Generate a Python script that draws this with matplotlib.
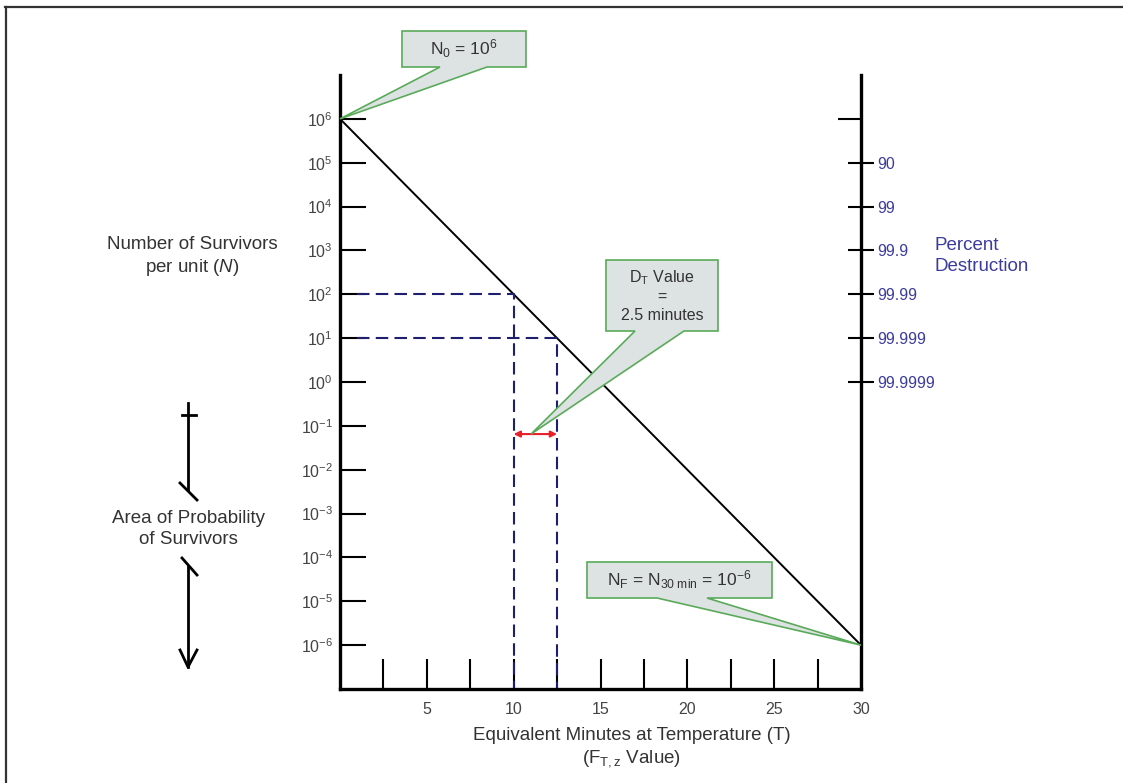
import matplotlib
matplotlib.use('Agg')
import matplotlib.pyplot as plt
from matplotlib.patches import Polygon
from matplotlib.ticker import FixedLocator, NullLocator, NullFormatter

plt.rcParams['font.family'] = ['Liberation Sans', 'DejaVu Sans']
plt.rcParams['mathtext.fontset'] = 'custom'
plt.rcParams['mathtext.rm'] = 'Liberation Sans'
plt.rcParams['mathtext.it'] = 'Liberation Sans:italic'
plt.rcParams['mathtext.bf'] = 'Liberation Sans:bold'

# survivor curve (minutes -> survivors per unit)
line_minutes = [0, 30]
line_survivors = [1e6, 1e-6]

# D value construction
dt_minutes = [10, 12.5]
dt_survivors = [1e2, 1e1]
dash_start = 1.0
arrow_level = 0.065
dt_tip_minute = 11.0

survivor_ticks = [1e-6, 1e-5, 1e-4, 1e-3, 1e-2, 1e-1, 1e0, 1e1, 1e2, 1e3, 1e4, 1e5, 1e6]
survivor_labels = ['$10^{-6}$', '$10^{-5}$', '$10^{-4}$', '$10^{-3}$', '$10^{-2}$', '$10^{-1}$',
                   '$10^{0}$', '$10^{1}$', '$10^{2}$', '$10^{3}$', '$10^{4}$', '$10^{5}$', '$10^{6}$']
pct_ticks = [1e5, 1e4, 1e3, 1e2, 1e1, 1e0]
pct_labels = ['90', '99', '99.9', '99.99', '99.999', '99.9999']
minute_ticks = [5, 10, 15, 20, 25, 30]
minute_minor = [2.5, 7.5, 12.5, 17.5, 22.5, 27.5]

W, H = 1123, 783
fig = plt.figure(figsize=(W / 100, H / 100), dpi=100)
ax = fig.add_axes([340 / W, 1 - 689 / H, 521 / W, 614 / H])

ax.set_yscale('log')
ax.set_xlim(0, 30)
ax.set_ylim(1e-7, 1e7)

ax.plot(line_minutes, line_survivors, color='black', lw=1.4)
for t, n in zip(dt_minutes, dt_survivors):
    ax.plot([dash_start, t, t], [n, n, 1e-7], color='#1f1f70', lw=1.5, dashes=(6, 3))

ax.annotate('', xy=(dt_minutes[0], arrow_level), xytext=(dt_minutes[1], arrow_level),
            arrowprops=dict(arrowstyle='<|-|>', color='#e8202a', lw=1.5,
                            shrinkA=0, shrinkB=0, mutation_scale=9))

ax.spines['top'].set_visible(False)
for s in ['left', 'right', 'bottom']:
    ax.spines[s].set_linewidth(2.4)

ax.yaxis.set_major_locator(FixedLocator(survivor_ticks))
ax.set_yticklabels(survivor_labels)
ax.yaxis.set_minor_locator(NullLocator())
ax.tick_params(axis='y', which='major', direction='in', length=18.5, width=1.5, pad=5,
               labelsize=11.5, labelcolor='#444444', left=True, right=False)

ax.set_xticks(minute_ticks)
ax.set_xticklabels([str(v) for v in minute_ticks])
ax.set_xticks(minute_minor, minor=True)
ax.tick_params(axis='x', which='both', direction='in', length=21.5, width=1.5, pad=9,
               labelsize=11.5, labelcolor='#444444', top=False)

# percent destruction scale on the right
ax2 = ax.twinx()
ax2.set_yscale('log')
ax2.set_ylim(1e-7, 1e7)
for s in ax2.spines.values():
    s.set_visible(False)
ax2.yaxis.set_major_locator(FixedLocator(pct_ticks))
ax2.set_yticklabels(pct_labels)
ax2.yaxis.set_minor_locator(FixedLocator([1e6]))
ax2.yaxis.set_minor_formatter(NullFormatter())
ax2.tick_params(axis='y', which='major', direction='inout', length=19, width=1.5, pad=2,
                labelsize=11.5, labelcolor='#3c3c9c')
ax2.tick_params(axis='y', which='minor', direction='in', length=16.5, width=1.5)

# overlay in pixel coords for frame, callouts and side notes
ov = fig.add_axes([0, 0, 1, 1])
ov.set_xlim(0, W)
ov.set_ylim(H, 0)
ov.axis('off')

ov.plot([5, W], [7, 7], color='#333333', lw=1.6)
ov.plot([6, 6], [7, H], color='#333333', lw=1.6)


def callout(box, base, tip_data, text, fs):
    x0, y0, x1, y1 = box
    tip = ov.transData.inverted().transform(ax.transData.transform(tip_data))
    verts = [(x0, y0), (x1, y0), (x1, y1), (base[1], y1), (tip[0], tip[1]), (base[0], y1), (x0, y1)]
    ov.add_patch(Polygon(verts, closed=True, facecolor='#dde3e3', edgecolor='#5aaa5a',
                         lw=1.2, zorder=5))
    ov.text((x0 + x1) / 2, (y0 + y1) / 2, text, ha='center', va='center', fontsize=fs,
            color='#333333', zorder=6, linespacing=1.25)


callout((402, 31, 526, 67), (440, 487), (line_minutes[0], line_survivors[0]),
        'N$_0$ = 10$^6$', 12.5)
callout((606, 260, 718, 331), (635, 684), (dt_tip_minute, arrow_level),
        'D$_\\mathrm{T}$ Value\n=\n2.5 minutes', 11.5)
callout((587, 562, 772, 598), (657, 707), (line_minutes[1], line_survivors[1]),
        'N$_\\mathrm{F}$ = N$_\\mathrm{30\\ min}$ = 10$^{-6}$', 12.5)

ov.text(192, 257, 'Number of Survivors\nper unit ($N$)', ha='center', va='center',
        fontsize=13.5, color='#333333', linespacing=1.3)
ov.text(188, 529, 'Area of Probability\nof Survivors', ha='center', va='center',
        fontsize=13.5, color='#333333', linespacing=1.3)
ov.text(935, 256, 'Percent\nDestruction', ha='left', va='center',
        fontsize=13.5, color='#3c3c9c', linespacing=1.25)
ov.text(632, 748, 'Equivalent Minutes at Temperature (T)\n(F$_\\mathrm{T,z}$ Value)', ha='center',
        va='center', fontsize=13.5, color='#333333', linespacing=1.3)

# probability arrows on the left
k = dict(color='black', lw=2)
ov.plot([188, 188], [403, 490], **k)
ov.plot([182, 196], [415, 415], **k)
ov.plot([180, 197], [483, 500], **k)
ov.plot([182, 197], [558, 575], **k)
ov.plot([188, 188], [566, 667], **k)
ov.plot([180, 188, 197], [650, 667, 650], **k)

fig.savefig('out.png', dpi=100)
